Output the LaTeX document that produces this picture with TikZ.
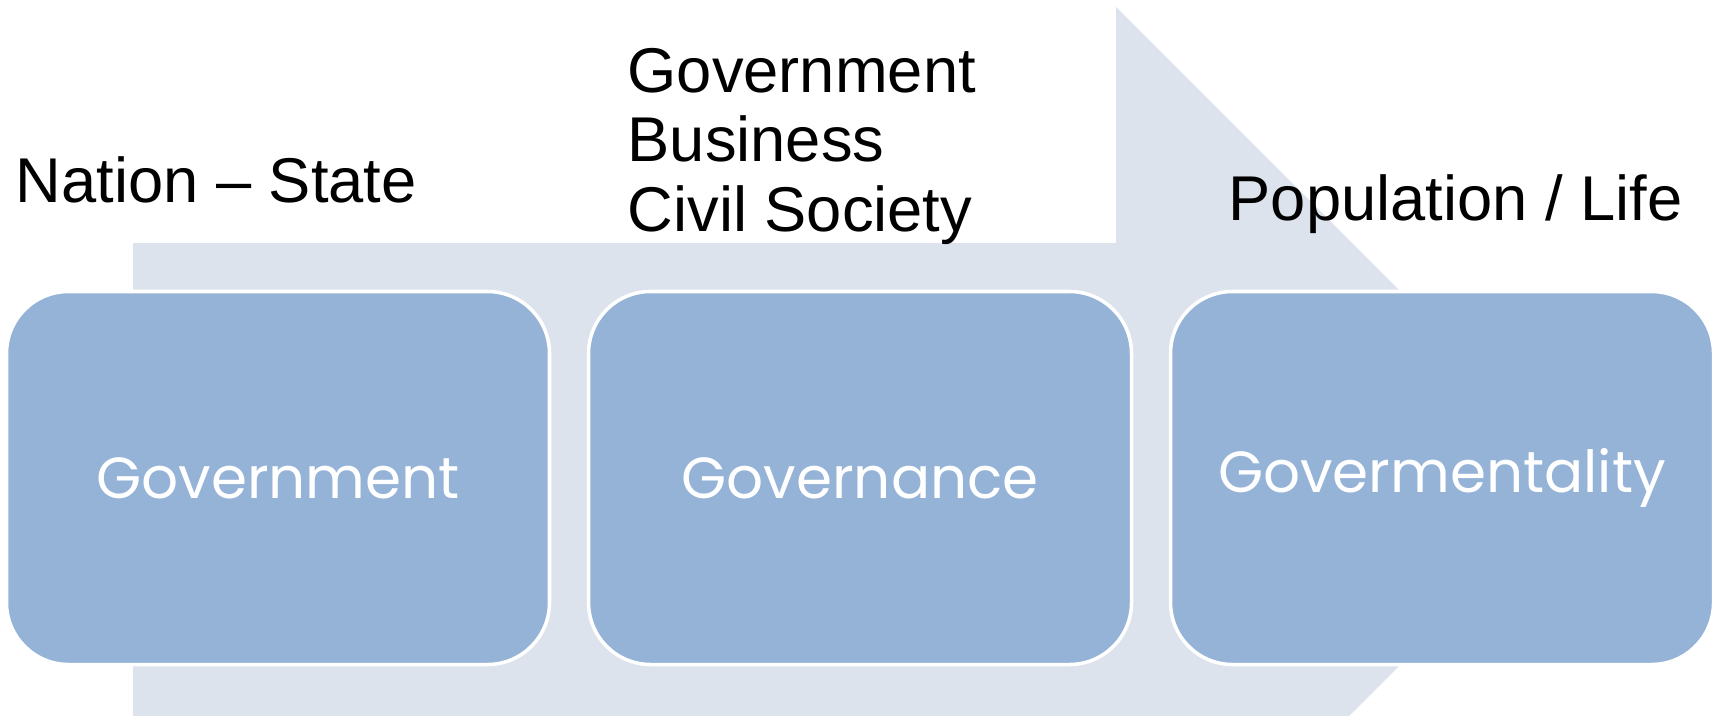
\documentclass[tikz,border=0pt]{standalone}
\usepackage{fontspec}
\setmainfont{Liberation Sans}
\newfontfamily\boxfont{Poppins}
\usepackage{xcolor}
\usetikzlibrary{positioning}
\definecolor{arrowbg}{HTML}{DCE3ED}
\definecolor{boxfill}{HTML}{95B3D7}

\begin{document}
\begin{tikzpicture}[stage/.style={shape=rectangle,rounded corners=0.62cm,draw=white,line width=1pt,fill=boxfill,minimum width=5.43cm,minimum height=3.73cm,text=white,font=\boxfont\fontsize{16.5}{18}\selectfont},
caption/.style={inner sep=0pt,anchor=base west,font=\fontsize{18}{20}\selectfont}]
\useasboundingbox (0,0) rectangle (17.23,7.15);
\clip (0,0) rectangle (17.23,7.15);
% big background arrow
\fill[arrowbg] (1.33,-0.1) -- (1.33,4.72) -- (11.16,4.72) -- (11.16,7.08) -- (15.87,2.37) -- (11.16,-2.34) -- (11.16,-0.1) -- cycle;
\node[stage] (gov) at (2.78,2.37) {Government};
\node[stage,right=0.355cm of gov] (gnc) {Governance};
\node[stage,right=0.355cm of gnc] (gmt) {Govermentality};
\node[caption] (nation) at (0.15,5.13) {Nation -- State};
\node[caption] (actor1) at (6.27,6.23) {Government};
\node[caption] (actor2) at (6.27,5.54) {Business};
\node[caption] (actor3) at (6.27,4.84) {Civil Society};
\node[caption] (poplife) at (12.28,4.95) {Population / Life};
\end{tikzpicture}
\end{document}
